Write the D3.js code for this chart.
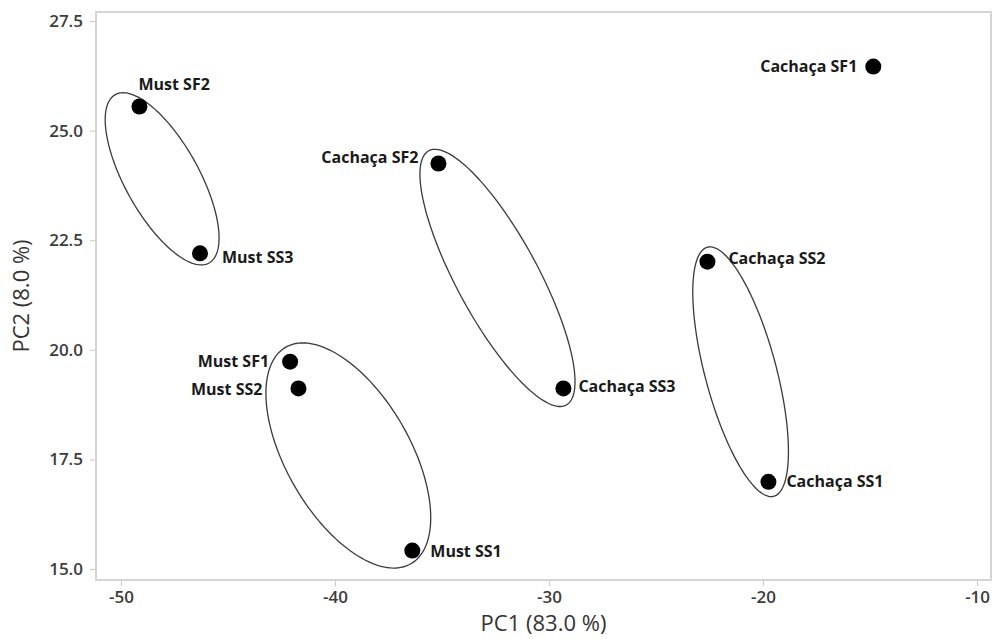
<!DOCTYPE html>
<html>
<head>
<meta charset="utf-8">
<script src="https://cdn.jsdelivr.net/npm/d3@7"></script>
<style>
  body { margin: 0; background: #fff; }
  svg { display: block; }
</style>
</head>
<body>
<div id="chart"></div>
<script>
// PCA scores (PC1, PC2)
var sampleNames = ["Must SF2", "Must SS3", "Must SF1", "Must SS2", "Must SS1",
                   "Cachaça SF2", "Cachaça SS3", "Cachaça SS2", "Cachaça SS1", "Cachaça SF1"];
var pc1Values = [-49.14, -46.31, -42.10, -41.71, -36.39, -35.17, -29.33, -22.60, -19.75, -14.85];
var pc2Values = [25.55, 22.20, 19.73, 19.12, 15.42, 24.25, 19.12, 22.01, 16.99, 26.46];

// grouping ellipses: centre + two conjugate semi-axis vectors, in PC units
var ellipseCx = [-48.08, -39.38, -32.41, -21.05];
var ellipseCy = [23.90, 17.59, 21.64, 19.50];
var ellipseU = [[2.19, -1.92], [2.92, -2.47], [3.21, -2.90], [1.55, -2.84]];
var ellipseV = [[1.51, 0.41], [2.51, 0.70], [1.68, 0.44], [1.61, 0.21]];

var xTicks = [-50, -40, -30, -20, -10];
var yTicks = [15.0, 17.5, 20.0, 22.5, 25.0, 27.5];

var xTitle = "PC1 (83.0 %)";
var yTitle = "PC2 (8.0 %)";

// label placement: [dx, dy, anchor]
var labelPlace = [[-1, -22, "start"], [22, 4, "start"], [-21, 0, "end"], [-36, 1, "end"],
                  [18, 1, "start"], [-20, -6, "end"], [15, -2, "start"], [21, -3, "start"],
                  [18, 0, "start"], [-16, 0, "end"]];

var W = 995, H = 639;
var m = { left: 96, right: 991, top: 12, bottom: 580 };

var svg = d3.select("#chart").append("svg")
  .attr("width", W)
  .attr("height", H)
  .style("font-family", "'Open Sans', 'Noto Sans', sans-serif");

var x = d3.scaleLinear().domain([-51.17, -9.35]).range([m.left, m.right]);
var y = d3.scaleLinear().domain([14.75, 27.705]).range([m.bottom, m.top]);

// frame
svg.append("rect")
  .attr("x", m.left).attr("y", m.top)
  .attr("width", m.right - m.left).attr("height", m.bottom - m.top)
  .attr("fill", "none")
  .attr("stroke", "#d4d4d4")
  .attr("stroke-width", 2);

var xAxis = svg.append("g")
  .attr("transform", "translate(0," + (m.bottom + 1) + ")")
  .call(d3.axisBottom(x).tickValues(xTicks).tickSize(5).tickSizeOuter(0).tickPadding(5)
    .tickFormat(d3.format("d")));
var yAxis = svg.append("g")
  .attr("transform", "translate(" + (m.left - 1) + ",0)")
  .call(d3.axisLeft(y).tickValues(yTicks).tickSize(5).tickSizeOuter(0).tickPadding(7)
    .tickFormat(d3.format(".1f")));

[xAxis, yAxis].forEach(function(g) {
  g.select(".domain").remove();
  g.selectAll(".tick line").attr("stroke", "#c8c8c8");
  g.selectAll(".tick text")
    .attr("fill", "#3c3c3c")
    .style("font-size", "17px")
    .style("font-weight", "600")
    .style("font-family", "'Open Sans', sans-serif");
});
// plain hyphen for negatives, as in the source
xAxis.selectAll(".tick text").text(function(d) { return "-" + Math.abs(d); });

// axis titles
svg.append("text")
  .attr("x", (m.left + m.right) / 2)
  .attr("y", 631)
  .attr("text-anchor", "middle")
  .attr("fill", "#333")
  .style("font-size", "22px")
  .text(xTitle);

svg.append("text")
  .attr("transform", "translate(29," + ((m.top + m.bottom) / 2) + ") rotate(-90)")
  .attr("text-anchor", "middle")
  .attr("fill", "#333")
  .style("font-size", "22px")
  .text(yTitle);

// ellipses
var line = d3.line().curve(d3.curveLinearClosed);
var angles = d3.range(0, 2 * Math.PI, Math.PI / 90);
svg.append("g").selectAll("path")
  .data(ellipseCx)
  .enter()
  .append("path")
  .attr("d", function(cx, i) {
    var cy = ellipseCy[i], u = ellipseU[i], v = ellipseV[i];
    return line(angles.map(function(t) {
      var c = Math.cos(t), s = Math.sin(t);
      return [x(cx + u[0] * c + v[0] * s), y(cy + u[1] * c + v[1] * s)];
    }));
  })
  .attr("fill", "none")
  .attr("stroke", "#3a3a3a")
  .attr("stroke-width", 1.3);

// points
svg.append("g").selectAll("circle")
  .data(sampleNames)
  .enter()
  .append("circle")
  .attr("cx", function(d, i) { return x(pc1Values[i]); })
  .attr("cy", function(d, i) { return y(pc2Values[i]); })
  .attr("r", 8)
  .attr("fill", "#000");

// labels
svg.append("g").selectAll("text")
  .data(sampleNames)
  .enter()
  .append("text")
  .attr("x", function(d, i) { return x(pc1Values[i]) + labelPlace[i][0]; })
  .attr("y", function(d, i) { return y(pc2Values[i]) + labelPlace[i][1]; })
  .attr("dy", "0.35em")
  .attr("text-anchor", function(d, i) { return labelPlace[i][2]; })
  .attr("fill", "#1a1a1a")
  .style("font-size", "16px")
  .style("font-weight", "700")
  .text(function(d) { return d; });
</script>
</body>
</html>
